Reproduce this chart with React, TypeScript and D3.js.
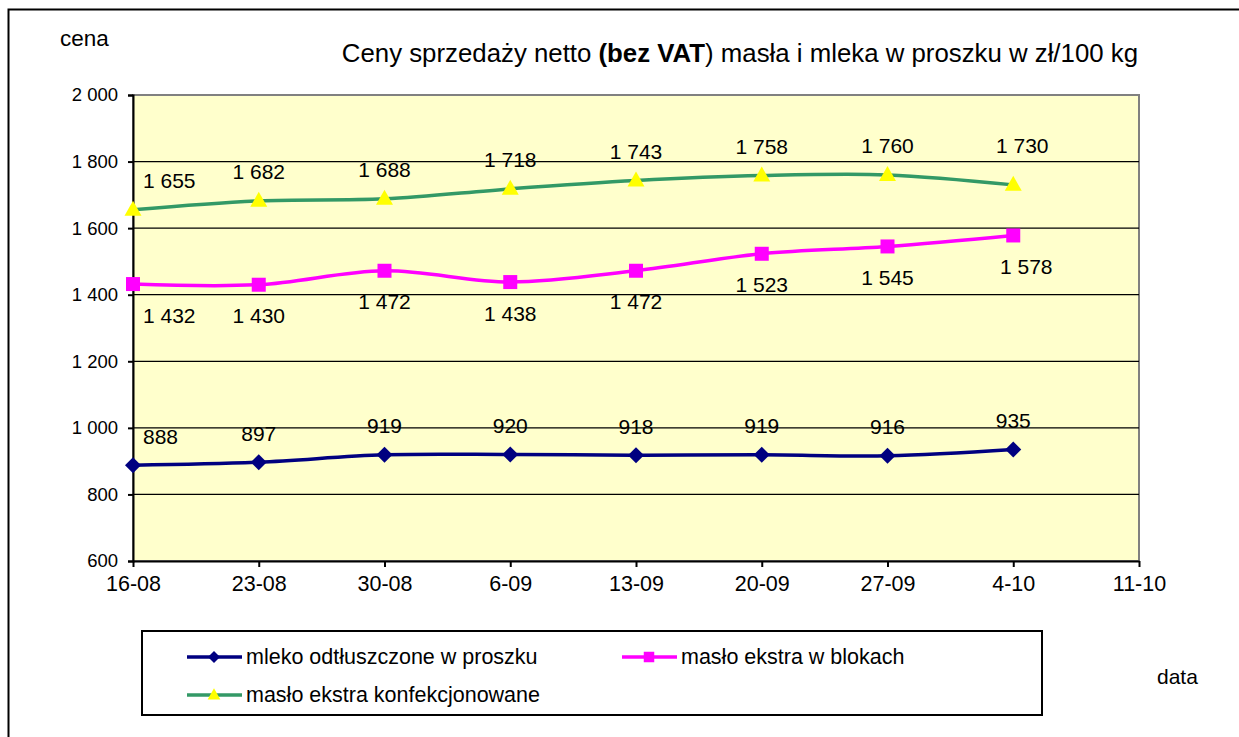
import { useRef, useEffect } from "react";
import * as d3 from "d3";

const dates = ["16-08", "23-08", "30-08", "6-09", "13-09", "20-09", "27-09", "4-10", "11-10"];
const mleko = [888, 897, 919, 920, 918, 919, 916, 935];
const masloBloki = [1432, 1430, 1472, 1438, 1472, 1523, 1545, 1578];
const masloKonf = [1655, 1682, 1688, 1718, 1743, 1758, 1760, 1730];
const yTicks = [600, 800, 1000, 1200, 1400, 1600, 1800, 2000];

const series = [
  { name: "mleko odtłuszczone w proszku", values: mleko, color: "#000080", marker: "diamond", label: "above" },
  { name: "masło ekstra w blokach", values: masloBloki, color: "#FF00FF", marker: "square", label: "below" },
  { name: "masło ekstra konfekcjonowane", values: masloKonf, color: "#339966", marker: "triangle", label: "above" },
];

// hand-moved labels in the original (series index -> point index -> [dx, dy])
const labelNudge: Record<number, Record<number, [number, number]>> = {
  1: { 7: [13, 0] },
  2: { 7: [9, -10] },
};

const FONT = "'Liberation Sans', Arial, sans-serif";
const fmt = (v: number) => d3.format(",")(v).replace(/,/g, " ");

function drawMarker(g: any, kind: string, x: number, y: number, color: string, k = 1) {
  if (kind === "diamond") {
    const r = 8 * k;
    g.append("path").attr("d", `M${x},${y - r}L${x + r},${y}L${x},${y + r}L${x - r},${y}Z`).attr("fill", color);
  } else if (kind === "square") {
    const r = 7 * k;
    g.append("rect").attr("x", x - r).attr("y", y - r).attr("width", 2 * r).attr("height", 2 * r).attr("fill", color);
  } else {
    g.append("path").attr("d", `M${x},${y - 9 * k}L${x + 8.5 * k},${y + 6 * k}L${x - 8.5 * k},${y + 6 * k}Z`).attr("fill", "#FFFF00");
  }
}

function drawChart(svgEl: SVGSVGElement) {
  const width = 1239, height = 737;
  const left = 133, right = 1139, top = 95, bottom = 561;

  const svg = d3.select(svgEl);
  svg.selectAll("*").remove();
  svg.attr("width", width).attr("height", height).style("font-family", FONT);

  svg.append("rect").attr("width", width).attr("height", height).attr("fill", "#fff");
  // outer chart frame (runs off the right and bottom edge)
  svg.append("rect").attr("x", 8.5).attr("y", 9.5).attr("width", 1300).attr("height", 800)
    .attr("fill", "none").attr("stroke", "#000").attr("stroke-width", 2);

  const x = d3.scalePoint().domain(dates).range([left, right]);
  const y = d3.scaleLinear().domain([600, 2000]).range([bottom, top]);

  svg.append("rect").attr("x", left).attr("y", top).attr("width", right - left).attr("height", bottom - top)
    .attr("fill", "#FFFFCC").attr("stroke", "#808080").attr("stroke-width", 2);

  // gridlines
  svg.append("g").selectAll("line").data(yTicks.filter(t => t > 600 && t < 2000)).join("line")
    .attr("x1", left).attr("x2", right).attr("y1", d => y(d)).attr("y2", d => y(d))
    .attr("stroke", "#000").attr("stroke-width", 1.3);

  // y axis
  const yAxis = svg.append("g").attr("transform", `translate(${left},0)`)
    .call(d3.axisLeft(y).tickValues(yTicks).tickFormat(d => fmt(d as number)).tickSize(5).tickPadding(10));
  yAxis.select(".domain").attr("stroke-width", 2);
  yAxis.selectAll("line").attr("stroke-width", 2);
  yAxis.selectAll("text").attr("font-size", 18.5).attr("font-family", FONT).attr("fill", "#000");

  // x axis
  const xAxis = svg.append("g").attr("transform", `translate(0,${bottom})`)
    .call(d3.axisBottom(x).tickSize(6).tickPadding(6).tickSizeOuter(0));
  xAxis.select(".domain").attr("stroke-width", 2);
  xAxis.selectAll("line").attr("stroke-width", 2);
  xAxis.selectAll("text").attr("font-size", 21.5).attr("font-family", FONT).attr("fill", "#000").attr("dy", "0.85em");

  const line = d3.line<number>()
    .x((_, i) => x(dates[i]) as number)
    .y(d => y(d))
    .curve(d3.curveCatmullRom.alpha(0.5));

  series.forEach((s, si) => {
    const g = svg.append("g");
    g.append("path").datum(s.values).attr("d", line).attr("fill", "none")
      .attr("stroke", s.color).attr("stroke-width", 3.5);
    s.values.forEach((v, i) => drawMarker(g, s.marker, x(dates[i]) as number, y(v), s.color));
    s.values.forEach((v, i) => {
      const px = x(dates[i]) as number;
      const [dx, dy] = labelNudge[si]?.[i] ?? [0, 0];
      const t = g.append("text").text(fmt(v)).attr("font-size", 21).attr("text-anchor", "middle")
        .attr("dominant-baseline", "central")
        .attr("x", px + dx).attr("y", y(v) + (s.label === "above" ? -29 : 31) + dy);
      const w = (t.node() as SVGTextElement).getComputedTextLength();
      if (px - w / 2 < left + 10) t.attr("x", left + 10 + w / 2);
    });
  });

  // titles
  svg.append("text").attr("x", 60).attr("y", 46).attr("font-size", 22.5).text("cena");
  const title = svg.append("text").attr("x", 1138).attr("y", 62).attr("text-anchor", "end").attr("font-size", 25.8);
  title.append("tspan").text("Ceny sprzedaży netto ");
  title.append("tspan").attr("font-weight", "bold").text("(bez VAT");
  title.append("tspan").text(") masła i mleka w proszku w zł/100 kg");
  svg.append("text").attr("x", 1157).attr("y", 684).attr("font-size", 21).text("data");

  // legend
  svg.append("rect").attr("x", 142).attr("y", 631).attr("width", 900).attr("height", 84)
    .attr("fill", "#fff").attr("stroke", "#000").attr("stroke-width", 2);
  const legendPos = [
    { x: 187, y: 657 },
    { x: 622, y: 657 },
    { x: 187, y: 695 },
  ];
  series.forEach((s, i) => {
    const p = legendPos[i];
    const g = svg.append("g");
    g.append("line").attr("x1", p.x).attr("x2", p.x + 55).attr("y1", p.y).attr("y2", p.y)
      .attr("stroke", s.color).attr("stroke-width", 3.5);
    drawMarker(g, s.marker, p.x + 27, p.y, s.color, 0.75);
    g.append("text").attr("x", p.x + 59).attr("y", p.y).attr("dominant-baseline", "central")
      .attr("font-size", 21.5).text(s.name);
  });
}

export default function App() {
  const ref = useRef<SVGSVGElement>(null);
  useEffect(() => {
    if (ref.current) drawChart(ref.current);
  }, []);
  return (
    <div style={{ position: "absolute", left: 0, top: 0 }}>
      <svg ref={ref} />
    </div>
  );
}
